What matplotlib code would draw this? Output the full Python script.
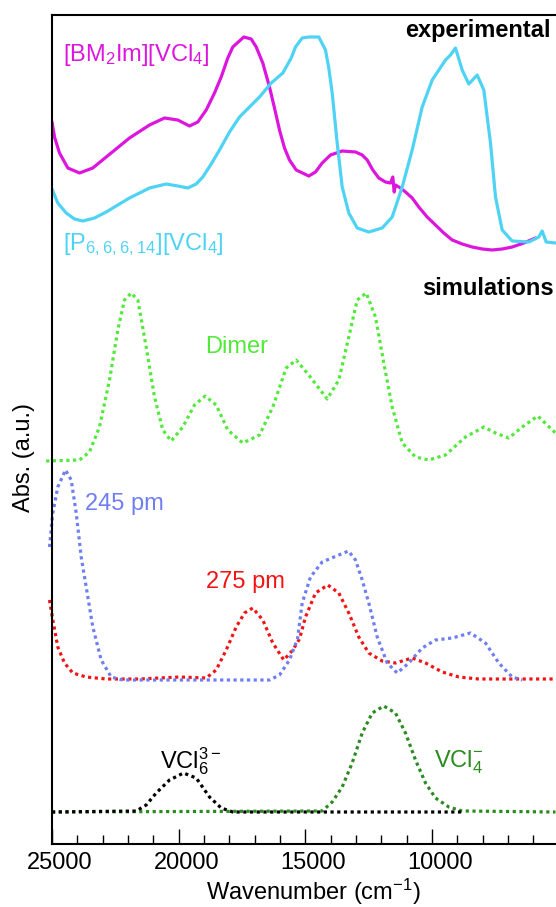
import matplotlib
matplotlib.use("Agg")
import matplotlib.pyplot as plt
from matplotlib.ticker import MultipleLocator, FixedLocator
import matplotlib.transforms as mtrans

plt.rcParams['font.family'] = ['Liberation Sans', 'DejaVu Sans']
plt.rcParams['mathtext.default'] = 'regular'

# ---------------- data (wavenumber in cm^-1, absorbance in a.u.) ----------------
bm2im_wn = [25000, 24900, 24704, 24375, 23914, 23390, 22860, 21940, 21150, 20559,
            20033, 19572, 19244, 18912, 18585, 18320, 18060, 17862, 17428, 17136,
            16938, 16678, 16413, 16216, 16018, 15821, 15624, 15359, 14862, 14597,
            14333, 14005, 13543, 13018, 12753, 12556, 12335, 12098, 11834, 11637,
            11546, 11490, 11439, 11242, 11044, 10780, 10519, 10188, 9860, 9532,
            9201, 8806, 8411, 8016, 7622, 7227, 6832, 6374, 5912]
bm2im_abs = [722, 707, 691, 676, 671, 676, 687, 706, 719, 726,
             724, 718, 722, 734, 751, 767, 786, 797, 807, 805,
             797, 781, 757, 736, 714, 696, 684, 674, 668, 672,
             681, 689, 693, 692, 689, 684, 674, 666, 662, 661,
             667, 652, 659, 656, 652, 646, 637, 627, 619, 611,
             604, 600, 597, 595, 594, 595, 597, 601, 606]

p666_wn = [25000, 24771, 24440, 24112, 23784, 23322, 22860, 22402, 21940, 21151,
           20492, 20033, 19639, 19307, 19047, 18715, 18387, 17992, 17597, 17203,
           16808, 16346, 15888, 15557, 15387, 15122, 14862, 14467, 14203, 14072,
           13938, 13741, 13543, 13283, 12951, 12493, 11964, 11569, 11174, 10780,
           10385, 9990, 9465, 9267, 9070, 8806, 8545, 8213, 7953, 7688,
           7491, 7227, 6832, 6176, 5782, 5648, 5490, 5122]
p666_abs = [655, 641, 631, 625, 623, 626, 632, 639, 646, 656,
            660, 658, 656, 660, 667, 680, 694, 712, 727, 737,
            747, 761, 771, 786, 797, 806, 807, 807, 794, 776,
            751, 701, 657, 631, 616, 612, 616, 627, 657, 694,
            737, 764, 784, 789, 796, 774, 760, 769, 754, 701,
            647, 614, 603, 602, 607, 613, 602, 601]

dimer_wn = [25230, 23914, 23520, 23125, 22730, 22402, 22138, 21873, 21613, 21281,
            20953, 20626, 20294, 19836, 19374, 18952, 18518, 18060, 17467, 16808,
            16283, 15754, 15360, 14862, 14135, 13677, 13283, 12951, 12596, 12229,
            11901, 11569, 11174, 10649, 10124, 9465, 8675, 7953, 7491, 6966,
            6437, 5821, 5122]
dimer_abs = [383, 384, 392, 417, 464, 514, 544, 551, 544, 497,
             447, 414, 403, 417, 439, 448, 439, 414, 401, 409,
             437, 476, 484, 469, 445, 464, 507, 544, 551, 527,
             481, 437, 401, 387, 384, 389, 407, 417, 411, 406,
             417, 428, 411]

pm245_wn = [25099, 24968, 24771, 24467, 24242, 24045, 23847, 23650, 23389, 23058,
            22663, 22205, 16413, 16018, 15624, 15308, 15122, 14795, 14333, 13772,
            13295, 13018, 12753, 12493, 12161, 11767, 11372, 10914, 10385, 9860,
            9201, 8478, 7886, 7361, 6832, 6437]
pm245_abs = [297, 331, 357, 374, 364, 331, 287, 257, 217, 184,
             167, 164, 164, 169, 184, 205, 241, 267, 282, 288,
             293, 284, 264, 241, 207, 181, 171, 181, 196, 204,
             206, 211, 201, 181, 167, 164]

pm275_wn = [25099, 24968, 24771, 24507, 24179, 23650, 22860, 21546, 19967, 18912,
            18518, 18123, 17728, 17400, 17073, 16678, 16283, 15849, 15493, 15229,
            14992, 14597, 14112, 13677, 13283, 12888, 12493, 11964, 11439, 10780,
            10254, 9595, 8940, 8150, 5122]
pm275_abs = [244, 224, 197, 181, 171, 167, 165, 165, 167, 166,
             174, 194, 217, 231, 236, 224, 201, 184, 194, 205,
             227, 251, 259, 251, 231, 207, 191, 183, 181, 186,
             181, 172, 167, 165, 165]

vcl6_wn = [25000, 21676, 21281, 20886, 20361, 19809, 19307, 18782, 18320, 17862, 8800]
vcl6_abs = [32, 33, 39, 51, 64, 71, 66, 47, 36, 32, 32]

vcl4_wn = [25000, 14333, 13938, 13543, 13149, 12753, 12358, 11901, 11439, 11044,
           10649, 10254, 9860, 9334, 8806, 5122]
vcl4_abs = [32, 33, 42, 57, 81, 111, 131, 138, 131, 111,
            84, 61, 46, 37, 33, 32]

x_major = [25000, 20000, 15000, 10000]
x_tick_labels = ['25000', '20000', '15000', '10000']

# ---------------- figure ----------------
W, H = 556, 907
fig = plt.figure(figsize=(W / 100, H / 100), dpi=100)
ax = fig.add_axes([52 / W, 63 / H, 523 / W, 829 / H])

c_mag = '#dc16dc'
c_cyan = '#4fd3f4'
c_dimer = '#52ea3a'
c_blue = '#6f7ef2'
c_red = '#f21414'
c_dkgreen = '#2a8c1e'

ax.plot(bm2im_wn, bm2im_abs, color=c_mag, lw=2.3, solid_capstyle='round')
ax.plot(p666_wn, p666_abs, color=c_cyan, lw=2.3, solid_capstyle='round')

dot = (0, (1, 1.1))
ax.plot(dimer_wn, dimer_abs, color=c_dimer, lw=2.3, ls=dot, clip_on=False)
ax.plot(pm275_wn, pm275_abs, color=c_red, lw=2.3, ls=dot, clip_on=False)
ax.plot(pm245_wn, pm245_abs, color=c_blue, lw=2.3, ls=dot, clip_on=False)
ax.plot(vcl4_wn, vcl4_abs, color=c_dkgreen, lw=2.3, ls=dot)
ax.plot(vcl6_wn, vcl6_abs, color='black', lw=2.3, ls=dot)

ax.set_xlim(25000, 4352)
ax.set_ylim(0, 829)

# spines / ticks
for s in ['left', 'bottom', 'top']:
    ax.spines[s].set_linewidth(1.5)
ax.spines['right'].set_visible(False)
ax.xaxis.set_major_locator(FixedLocator(x_major))
ax.set_xticklabels(x_tick_labels)
ax.xaxis.set_minor_locator(MultipleLocator(1000))
ax.tick_params(axis='x', which='major', direction='in', length=10.5, width=1.0,
               labelsize=17, pad=6, top=False)
ax.tick_params(axis='x', which='minor', direction='in', length=6.5, width=1.0, top=False)
ax.set_yticks([])
off = mtrans.ScaledTranslation(8 / 100, 0, fig.dpi_scale_trans)
for lab in ax.get_xticklabels():
    lab.set_transform(lab.get_transform() + off)

ax.set_xlabel('Wavenumber (cm$^{-1}$)', fontsize=17, labelpad=2)
ax.set_ylabel('Abs. (a.u.)', fontsize=17, va='center')
ax.yaxis.set_label_coords(-28 / 523, (844 - 458) / 829)

# annotations
fs = 17
ax.text(11044, 814, 'experimental', fontsize=fs, fontweight='bold', va='center', ha='left')
ax.text(10385, 556, 'simulations', fontsize=fs, fontweight='bold', va='center', ha='left')
ax.text(24574, 783, '[BM$_2$Im][VCl$_4$]', fontsize=fs, color=c_mag, va='baseline', ha='left')
ax.text(24546, 594, '[P$_{6,6,6,14}$][VCl$_4$]', fontsize=fs, color=c_cyan, va='baseline', ha='left')
ax.text(18952, 491, 'Dimer', fontsize=fs, color=c_dimer, va='baseline', ha='left')
ax.text(23689, 334, '245 pm', fontsize=fs, color=c_blue, va='baseline', ha='left')
ax.text(18912, 256, '275 pm', fontsize=fs, color=c_red, va='baseline', ha='left')
ax.text(20728, 76, 'VCl$_6^{3-}$', fontsize=fs, color='black', va='baseline', ha='left')
ax.text(9927, 76, 'VCl$_4^{-}$', fontsize=fs, color=c_dkgreen, va='baseline', ha='left')

fig.savefig('out.png', dpi=100)
